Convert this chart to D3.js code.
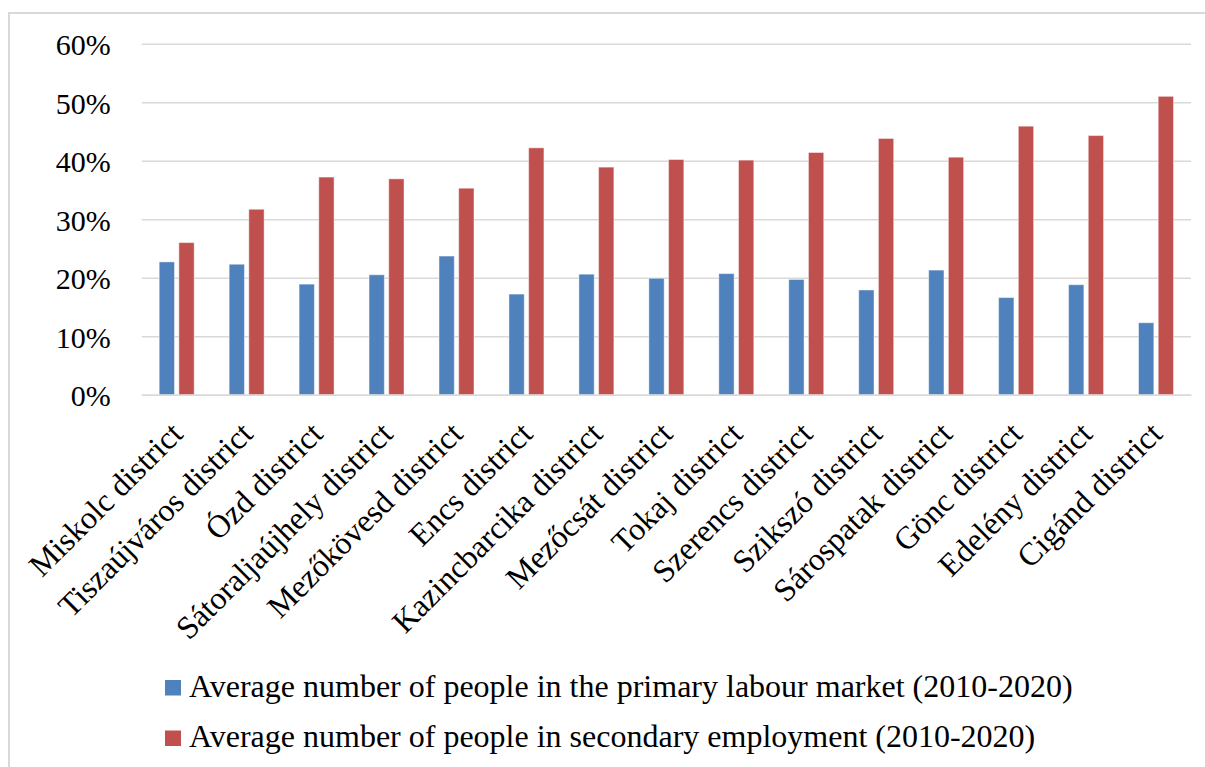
<!DOCTYPE html>
<html>
<head>
<meta charset="utf-8">
<script src="https://cdn.jsdelivr.net/npm/d3@7"></script>
<style>
  html, body { margin: 0; padding: 0; background: #fff; }
  svg { display: block; }
</style>
</head>
<body>
<svg id="chart" width="1205" height="767"></svg>
<script>
// District names along the category axis
const districts = [
  "Miskolc district", "Tiszaújváros district", "Ózd district", "Sátoraljaújhely district",
  "Mezőkövesd district", "Encs district", "Kazincbarcika district", "Mezőcsát district",
  "Tokaj district", "Szerencs district", "Szikszó district", "Sárospatak district",
  "Gönc district", "Edelény district", "Cigánd district"
];

// Share of people in the primary labour market, 2010-2020 average
const primaryLabour = [
  0.227, 0.223, 0.189, 0.205, 0.237, 0.172, 0.206, 0.199,
  0.207, 0.197, 0.179, 0.213, 0.166, 0.188, 0.123
];

// Share of people in secondary employment, 2010-2020 average
const secondaryEmployment = [
  0.260, 0.317, 0.372, 0.369, 0.353, 0.422, 0.389, 0.402,
  0.401, 0.414, 0.438, 0.406, 0.459, 0.443, 0.510
];

const seriesNames = [
  "Average number of people in the primary labour market (2010-2020)",
  "Average number of people in secondary employment (2010-2020)"
];
const seriesColors = ["#4F81BD", "#C0504D"];
const yTicks = [0, 0.1, 0.2, 0.3, 0.4, 0.5, 0.6];

const FONT = "'Liberation Serif', 'Times New Roman', serif";

const svg = d3.select("#chart");

// Chart frame
svg.append("rect")
  .attr("x", 9).attr("y", 13)
  .attr("width", 1210).attr("height", 800)
  .attr("fill", "#fff")
  .attr("stroke", "#d9d9d9")
  .attr("stroke-width", 2);

const plot = { left: 141.7, right: 1191, top: 43.7, bottom: 394.7 };

const x = d3.scaleBand()
  .domain(districts)
  .range([plot.left, plot.right])
  .padding(0);

const bw = x.bandwidth();
const xs = d3.scaleBand()
  .domain([0, 1])
  .range([bw * 0.25, bw * 0.75])
  .paddingInner(0.223)
  .paddingOuter(0);

const y = d3.scaleLinear()
  .domain([0, 0.6])
  .range([plot.bottom, plot.top]);

// Horizontal gridlines and percentage labels
const yAxis = d3.axisLeft(y)
  .tickValues(yTicks)
  .tickSize(-(plot.right - plot.left))
  .tickPadding(31)
  .tickFormat(d3.format(".0%"));

const gy = svg.append("g")
  .attr("transform", `translate(${plot.left},0)`)
  .call(yAxis);
gy.select(".domain").remove();
gy.selectAll(".tick line")
  .attr("stroke", "#d9d9d9")
  .attr("stroke-width", 1.6);
gy.selectAll(".tick text")
  .style("font-family", FONT)
  .style("font-size", "30px")
  .attr("fill", "#000")
  .attr("dy", "0.36em");

// Bars
const rows = districts.map((d, i) => ({ name: d, values: [primaryLabour[i], secondaryEmployment[i]] }));

const groups = svg.append("g").selectAll("g")
  .data(rows)
  .join("g")
  .attr("transform", d => `translate(${x(d.name)},0)`);

groups.selectAll("rect")
  .data(d => d.values.map((v, k) => ({ k, v })))
  .join("rect")
  .attr("x", d => xs(d.k))
  .attr("width", xs.bandwidth())
  .attr("y", d => y(d.v))
  .attr("height", d => y(0) - y(d.v))
  .attr("fill", d => seriesColors[d.k])
  .attr("stroke", "#ffffff")
  .attr("stroke-opacity", 0.45)
  .attr("stroke-width", 1);

// Category axis line and rotated district labels
const xAxis = d3.axisBottom(x).tickSize(0).tickPadding(0);
const gx = svg.append("g")
  .attr("transform", `translate(0,${plot.bottom})`)
  .call(xAxis);
gx.select(".domain")
  .attr("stroke", "#d9d9d9")
  .attr("stroke-width", 1.6);
gx.selectAll(".tick text")
  .style("font-family", FONT)
  .style("font-size", "32px")
  .attr("fill", "#000")
  .attr("y", 0)
  .attr("text-anchor", "end")
  .attr("dy", "0.35em")
  .attr("transform", "translate(0,33) rotate(-45)");

// Legend
const legendItems = svg.append("g").selectAll("g")
  .data(seriesNames)
  .join("g")
  .attr("transform", (d, i) => `translate(165,${680 + i * 50.5})`);
legendItems.append("rect")
  .attr("width", 16).attr("height", 15.5)
  .attr("fill", (d, i) => seriesColors[i]);
legendItems.append("text")
  .attr("x", 24)
  .attr("y", 16.5)
  .style("font-family", FONT)
  .style("font-size", "32px")
  .attr("fill", "#000")
  .text(d => d);
</script>
</body>
</html>
